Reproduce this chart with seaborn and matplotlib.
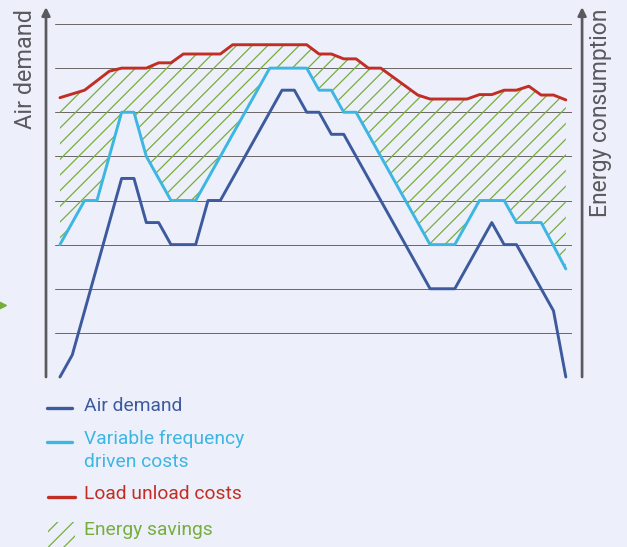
import matplotlib
matplotlib.use("Agg")
import matplotlib.pyplot as plt
import seaborn as sns
from matplotlib.lines import Line2D
from matplotlib.patches import Rectangle

# time steps (breakpoints only) and values, in grid units
x_air = [0, 1, 5, 6, 7, 8, 9, 11, 12, 13, 18, 19, 20, 21, 22, 23, 30, 32, 35, 36, 37, 40, 41]
air_demand = [0, 0.5, 4.5, 4.5, 3.5, 3.5, 3.0, 3.0, 4.0, 4.0, 6.5, 6.5, 6.0, 6.0, 5.5, 5.5,
              2.0, 2.0, 3.5, 3.0, 3.0, 1.5, 0]

x_vfd = [0, 2, 3, 5, 6, 7, 9, 11, 17, 20, 21, 22, 23, 24, 30, 32, 34, 36, 37, 39, 41]
vfd_costs = [3.0, 4.0, 4.0, 6.0, 6.0, 5.0, 4.0, 4.0, 7.0, 7.0, 6.5, 6.5, 6.0, 6.0, 3.0, 3.0,
             4.0, 4.0, 3.5, 3.5, 2.45]

x_lu = [0, 2, 4, 5, 7, 8, 9, 10, 13, 14, 20, 21, 22, 23, 24, 25, 26, 29, 30, 33, 34, 35,
        36, 37, 38, 39, 40, 41]
lu_costs = [6.33, 6.5, 6.93, 7.0, 7.0, 7.12, 7.12, 7.32, 7.32, 7.53, 7.53, 7.32, 7.32, 7.21,
            7.21, 7.0, 7.0, 6.39, 6.3, 6.3, 6.4, 6.4, 6.5, 6.5, 6.59, 6.39, 6.39, 6.28]

labels = ["Air demand", "Variable frequency\ndriven costs", "Load unload costs", "Energy savings"]

air_c = "#3d5a9e"
vfd_c = "#3cb6e3"
lu_c = "#c22e25"
green = "#76ae3c"
bg = "#edf0fa"
grey = "#5a5a5e"

# dpi chosen so the hatch spacing matches; k keeps point sizes at the same pixel size
W, H, DPI = 627, 547, 94
k = 75 / DPI

sns.set_style("white")
plt.rcParams["font.family"] = ["Roboto", "DejaVu Sans"]
plt.rcParams["hatch.linewidth"] = 1.2 * k

fig = plt.figure(figsize=(W / DPI, H / DPI), dpi=DPI, facecolor=bg)
ax = fig.add_axes([55 / W, (H - 377) / H, 517 / W, 353 / H])
ax.set_facecolor(bg)

# horizontal grid
ax.set_xlim(-0.4, 41.5)
ax.set_ylim(0, 8)
ax.set_yticks(range(9))
ax.set_xticks([])
ax.grid(axis="y", color="#66615f", lw=0.9 * k)
ax.tick_params(left=False, labelleft=False)
for s in ax.spines.values():
    s.set_visible(False)

# energy savings hatch between load/unload and VFD
px = list(x_lu) + x_vfd[::-1]
py = list(lu_costs) + vfd_costs[::-1]
ax.fill(px, py, facecolor="none", edgecolor=green, hatch="//", lw=0, zorder=1)

sns.lineplot(x=x_air, y=air_demand, color=air_c, lw=2.8 * k, ax=ax, zorder=3, clip_on=False)
sns.lineplot(x=x_vfd, y=vfd_costs, color=vfd_c, lw=2.8 * k, ax=ax, zorder=4, clip_on=False)
sns.lineplot(x=x_lu, y=lu_costs, color=lu_c, lw=2.8 * k, ax=ax, zorder=5, clip_on=False)

# vertical arrows
for xa in (-0.0174, 1.0195):
    ax.annotate("", xy=(xa, 1.048), xytext=(xa, 0.0), xycoords="axes fraction",
                arrowprops=dict(arrowstyle="-|>", lw=2.6 * k, color=grey,
                                mutation_scale=16 * k, shrinkA=0, shrinkB=0),
                annotation_clip=False)

ax.text(-0.058, 0.873, "Air demand", rotation=90, ha="center", va="center",
        transform=ax.transAxes, fontsize=22.5 * k, color=grey)
ax.text(1.056, 0.748, "Energy consumption", rotation=90, ha="center", va="center",
        transform=ax.transAxes, fontsize=22 * k, color=grey)

# legend below the chart
def fx(p):
    return p / W

def fy(p):
    return 1 - p / H

fs = 18.5 * k
fig.add_artist(Line2D([fx(47), fx(72)], [fy(408), fy(408)], color=air_c, lw=3.2 * k))
fig.text(fx(84), fy(406), labels[0], color=air_c, fontsize=fs, va="center")
fig.add_artist(Line2D([fx(47), fx(72)], [fy(442), fy(442)], color=vfd_c, lw=3.2 * k))
fig.text(fx(84), fy(430), labels[1], color=vfd_c, fontsize=fs, va="top",
         linespacing=1.32)
fig.add_artist(Line2D([fx(48), fx(75)], [fy(497), fy(497)], color=lu_c, lw=3.2 * k))
fig.text(fx(84), fy(494), labels[2], color=lu_c, fontsize=fs, va="center")
fig.add_artist(Rectangle((fx(48), fy(547)), fx(27), 25 / H, transform=fig.transFigure,
                         facecolor="none", edgecolor=green, hatch="//", lw=0))
fig.text(fx(84), fy(530), labels[3], color=green, fontsize=fs, va="center")

# small green marker at the left edge
fig.add_artist(Line2D([fx(1)], [fy(305)], marker=">", color=green, markersize=9 * k, lw=0))

fig.savefig("out.png", dpi=DPI, facecolor=bg)
